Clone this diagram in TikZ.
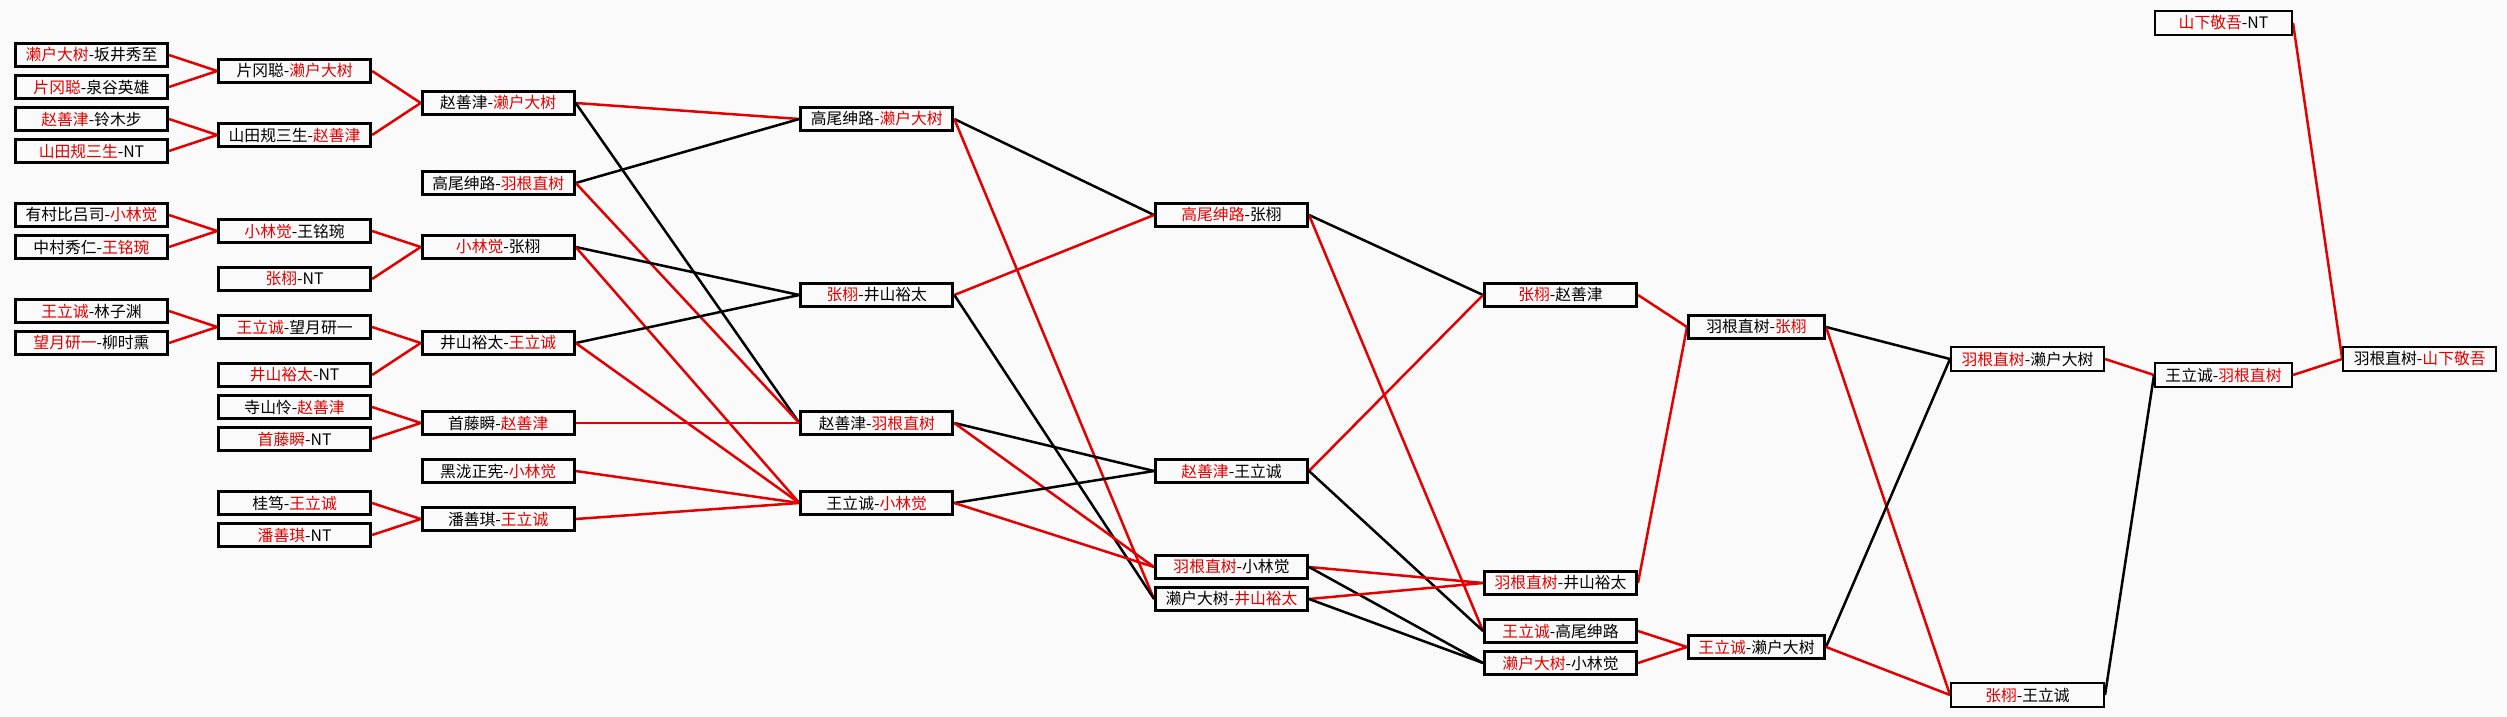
\documentclass[tikz,border=0pt]{standalone}
\usepackage{fontspec}
\setmainfont{Noto Sans CJK SC}
\pgfdeclarelayer{canvas}
\pgfdeclarelayer{wires}
\pgfsetlayers{canvas,wires,main}
\definecolor{wr}{RGB}{228,0,0}
\definecolor{bgc}{RGB}{250,250,250}
\newcommand{\rd}[1]{\textcolor{wr}{#1}}
\tikzset{
  mbox/.style={draw=black, line width=3pt, fill=bgc, minimum width=152pt,
    minimum height=23.5pt, inner sep=0pt, font=\fontsize{15.8}{16}\selectfont},
  nbox/.style={mbox, minimum width=136pt},
  lbox/.style={mbox, line width=2pt, minimum width=153pt, minimum height=24pt},
  lnbox/.style={lbox, minimum width=137pt},
  rw/.style={draw=wr, line width=2.5pt},
  bw/.style={draw=black, line width=2.5pt},
}
\begin{document}
\begin{tikzpicture}[x=1pt,y=-1pt]
\begin{pgfonlayer}{canvas}
\fill[bgc] (0,0) rectangle (2507,717);
\end{pgfonlayer}
\useasboundingbox (0,0) rectangle (2507,717);
% column A
\node[mbox] (a1) at (91.5,55) {\rd{濑户大树}-坂井秀至};
\node[mbox] (a2) at (91.5,87) {\rd{片冈聪}-泉谷英雄};
\node[mbox] (a3) at (91.5,119) {\rd{赵善津}-铃木步};
\node[mbox] (a4) at (91.5,151) {\rd{山田规三生}-NT};
\node[mbox] (a5) at (91.5,215) {有村比吕司-\rd{小林觉}};
\node[mbox] (a6) at (91.5,247) {中村秀仁-\rd{王铭琬}};
\node[mbox] (a7) at (91.5,311) {\rd{王立诚}-林子渊};
\node[mbox] (a8) at (91.5,343) {\rd{望月研一}-柳时熏};
% column B
\node[mbox] (b1) at (294.6,71) {片冈聪-\rd{濑户大树}};
\node[mbox] (b2) at (294.6,135) {山田规三生-\rd{赵善津}};
\node[mbox] (b3) at (294.6,231) {\rd{小林觉}-王铭琬};
\node[mbox] (b4) at (294.6,279) {\rd{张栩}-NT};
\node[mbox] (b5) at (294.6,327) {\rd{王立诚}-望月研一};
\node[mbox] (b6) at (294.6,375) {\rd{井山裕太}-NT};
\node[mbox] (b7) at (294.6,407) {寺山怜-\rd{赵善津}};
\node[mbox] (b8) at (294.6,439) {\rd{首藤瞬}-NT};
\node[mbox] (b9) at (294.6,503) {桂笃-\rd{王立诚}};
\node[mbox] (b10) at (294.6,535) {\rd{潘善琪}-NT};
% column C
\node[mbox] (c1) at (498.2,103) {赵善津-\rd{濑户大树}};
\node[mbox] (c2) at (498.2,183) {高尾绅路-\rd{羽根直树}};
\node[mbox] (c3) at (498.2,247) {\rd{小林觉}-张栩};
\node[mbox] (c4) at (498.2,343) {井山裕太-\rd{王立诚}};
\node[mbox] (c5) at (498.2,423) {首藤瞬-\rd{赵善津}};
\node[mbox] (c6) at (498.2,471) {黑泷正宪-\rd{小林觉}};
\node[mbox] (c7) at (498.2,519) {潘善琪-\rd{王立诚}};
% column D
\node[mbox] (d1) at (876.8,119) {高尾绅路-\rd{濑户大树}};
\node[mbox] (d2) at (876.8,295) {\rd{张栩}-井山裕太};
\node[mbox] (d3) at (876.8,423) {赵善津-\rd{羽根直树}};
\node[mbox] (d4) at (876.8,503) {王立诚-\rd{小林觉}};
% column E
\node[mbox] (e1) at (1231.5,215) {\rd{高尾绅路}-张栩};
\node[mbox] (e2) at (1231.5,471) {\rd{赵善津}-王立诚};
\node[mbox] (e3) at (1231.5,567) {\rd{羽根直树}-小林觉};
\node[mbox] (e4) at (1231.5,599) {濑户大树-\rd{井山裕太}};
% column F
\node[mbox] (f1) at (1560.5,295) {\rd{张栩}-赵善津};
\node[mbox] (f2) at (1560.5,583) {\rd{羽根直树}-井山裕太};
\node[mbox] (f3) at (1560.5,631) {\rd{王立诚}-高尾绅路};
\node[mbox] (f4) at (1560.5,663) {\rd{濑户大树}-小林觉};
% column G
\node[nbox] (g1) at (1756.5,327) {羽根直树-\rd{张栩}};
\node[nbox] (g2) at (1756.5,647) {\rd{王立诚}-濑户大树};
% right part
\node[lbox] (h1) at (2027.5,359) {\rd{羽根直树}-濑户大树};
\node[lbox] (h2) at (2027.5,695) {\rd{张栩}-王立诚};
\node[lnbox] (i1) at (2223.5,375) {王立诚-\rd{羽根直树}};
\node[lbox] (j1) at (2419.7,359) {羽根直树-\rd{山下敬吾}};
\node[lnbox] (k1) at (2223.5,23) {\rd{山下敬吾}-NT};

\begin{pgfonlayer}{wires}
% A -> B
\draw[rw] (a1.east) -- (b1.west);
\draw[rw] (a2.east) -- (b1.west);
\draw[rw] (a3.east) -- (b2.west);
\draw[rw] (a4.east) -- (b2.west);
\draw[rw] (a5.east) -- (b3.west);
\draw[rw] (a6.east) -- (b3.west);
\draw[rw] (a7.east) -- (b5.west);
\draw[rw] (a8.east) -- (b5.west);
% B -> C
\draw[rw] (b1.east) -- (c1.west);
\draw[rw] (b2.east) -- (c1.west);
\draw[rw] (b3.east) -- (c3.west);
\draw[rw] (b4.east) -- (c3.west);
\draw[rw] (b5.east) -- (c4.west);
\draw[rw] (b6.east) -- (c4.west);
\draw[rw] (b7.east) -- (c5.west);
\draw[rw] (b8.east) -- (c5.west);
\draw[rw] (b9.east) -- (c7.west);
\draw[rw] (b10.east) -- (c7.west);
% C -> D
\draw[rw] (c1.east) -- (d1.west);
\draw[bw] (c1.east) -- (d3.west);
\draw[bw] (c2.east) -- (d1.west);
\draw[rw] (c2.east) -- (d3.west);
\draw[bw] (c3.east) -- (d2.west);
\draw[rw] (c3.east) -- (d4.west);
\draw[bw] (c4.east) -- (d2.west);
\draw[rw] (c4.east) -- (d4.west);
\draw[rw] (c5.east) -- (d3.west);
\draw[rw] (c6.east) -- (d4.west);
\draw[rw] (c7.east) -- (d4.west);
% D -> E
\draw[bw] (d1.east) -- (e1.west);
\draw[rw] (d1.east) -- (e4.west);
\draw[rw] (d2.east) -- (e1.west);
\draw[bw] (d2.east) -- (e4.west);
\draw[bw] (d3.east) -- (e2.west);
\draw[rw] (d3.east) -- (e3.west);
\draw[bw] (d4.east) -- (e2.west);
\draw[rw] (d4.east) -- (e3.west);
% E -> F
\draw[bw] (e1.east) -- (f1.west);
\draw[rw] (e1.east) -- (f3.west);
\draw[rw] (e2.east) -- (f1.west);
\draw[bw] (e2.east) -- (f3.west);
\draw[rw] (e3.east) -- (f2.west);
\draw[bw] (e3.east) -- (f4.west);
\draw[rw] (e4.east) -- (f2.west);
\draw[bw] (e4.east) -- (f4.west);
% F -> G
\draw[rw] (f1.east) -- (g1.west);
\draw[rw] (f2.east) -- (g1.west);
\draw[rw] (f3.east) -- (g2.west);
\draw[rw] (f4.east) -- (g2.west);
% G -> H
\draw[bw] (g1.east) -- (h1.west);
\draw[rw] (g1.east) -- (h2.west);
\draw[bw] (g2.east) -- (h1.west);
\draw[rw] (g2.east) -- (h2.west);
% H -> I -> J
\draw[rw] (h1.east) -- (i1.west);
\draw[bw] (h2.east) -- (i1.west);
\draw[rw] (i1.east) -- (j1.west);
\draw[rw] (k1.east) -- (j1.west);
\end{pgfonlayer}
\end{tikzpicture}
\end{document}
